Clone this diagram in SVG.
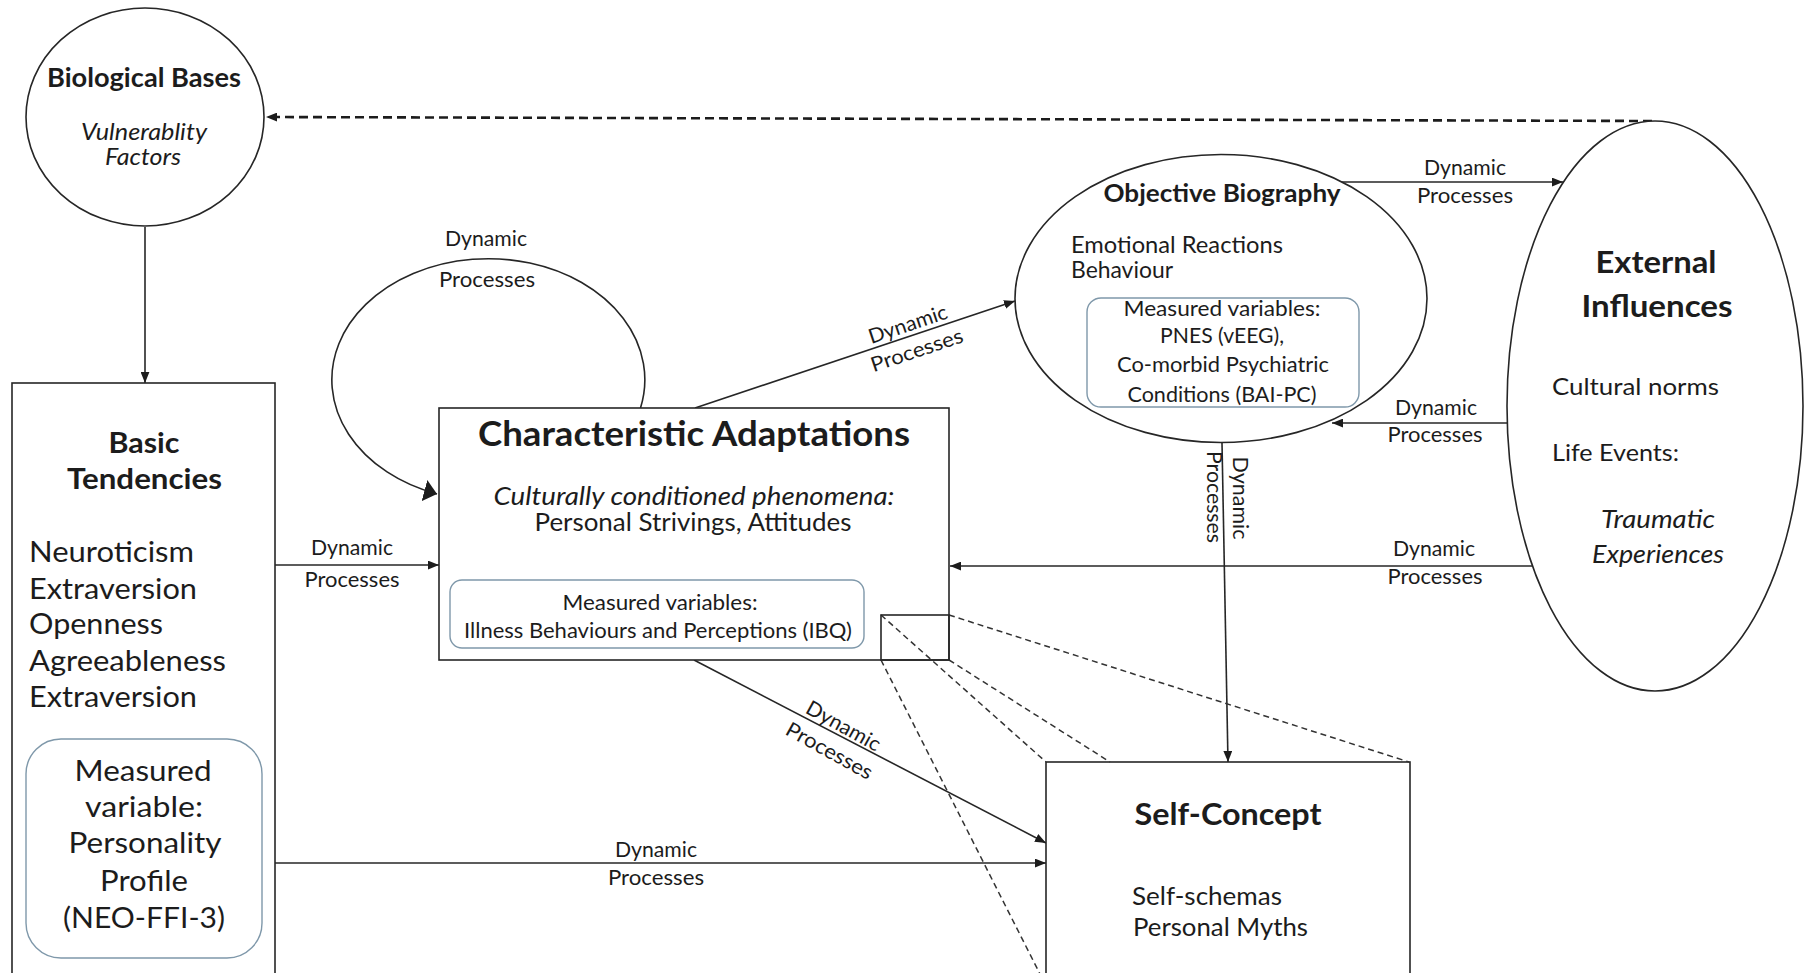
<svg xmlns="http://www.w3.org/2000/svg" width="1804" height="973" viewBox="0 0 1804 973">
<defs>
<style>
text{font-family:Lato,"Open Sans","Liberation Sans",sans-serif;fill:#1c1c1c;}
.b{font-weight:bold;}
.i{font-style:italic;}
.m{text-anchor:middle;}
.lbl{font-size:20.5px;text-anchor:middle;}
.node{fill:#fff;stroke:#262626;stroke-width:1.6;}
.inner{fill:none;stroke:#7f98aa;stroke-width:1.4;}
.conn{fill:none;stroke:#262626;stroke-width:1.6;}
.dash{fill:none;stroke:#333;stroke-width:1.5;stroke-dasharray:6 4;}
</style>
<marker id="ah" viewBox="0 0 10 8" refX="10" refY="4" markerWidth="11" markerHeight="9" markerUnits="userSpaceOnUse" orient="auto">
<path d="M0,0 L10,4 L0,8 z" fill="#1c1c1c"/>
</marker>
<marker id="ahBig" viewBox="0 0 13 22" refX="13" refY="11" markerWidth="13" markerHeight="22" markerUnits="userSpaceOnUse" orient="auto">
<path d="M0,0 L13,11 L0,22 z" fill="#1c1c1c"/>
</marker>
</defs>
<rect width="1804" height="973" fill="#fff"/>

<g id="connectors">
<path d="M1652 121 L266 117" fill="none" stroke="#1c1c1c" stroke-width="2.6" stroke-dasharray="9 5" marker-end="url(#ah)"/>
<path class="conn" d="M145 227 L145 383" marker-end="url(#ah)"/>
<path class="conn" d="M640.5 408 A156.5 121 0 1 0 437 494" marker-end="url(#ahBig)"/>
<path class="conn" d="M275 565 L439 565" marker-end="url(#ah)"/>
<path class="conn" d="M275 863 L1046 863" marker-end="url(#ah)"/>
<path class="conn" d="M695 408 L1015 301" marker-end="url(#ah)"/>
<path class="conn" d="M694 660 L1046 843" marker-end="url(#ah)"/>
<path class="conn" d="M1340 182 L1563 182" marker-end="url(#ah)"/>
<path class="conn" d="M1507 423 L1332 423" marker-end="url(#ah)"/>
<path class="conn" d="M1534 566 L950 566" marker-end="url(#ah)"/>
<path class="conn" d="M1222 443 L1228 762" marker-end="url(#ah)"/>
<text class="lbl" x="486" y="246" textLength="82" lengthAdjust="spacingAndGlyphs">Dynamic</text>
<text class="lbl" x="487" y="287" textLength="96" lengthAdjust="spacingAndGlyphs">Processes</text>
<text class="lbl" x="352" y="555" textLength="82" lengthAdjust="spacingAndGlyphs">Dynamic</text>
<text class="lbl" x="352" y="587" textLength="95" lengthAdjust="spacingAndGlyphs">Processes</text>
<text class="lbl" x="656" y="857" textLength="82" lengthAdjust="spacingAndGlyphs">Dynamic</text>
<text class="lbl" x="656" y="885" textLength="96" lengthAdjust="spacingAndGlyphs">Processes</text>
<text class="lbl" transform="translate(910 331) rotate(-18.5)" textLength="82" lengthAdjust="spacingAndGlyphs">Dynamic</text>
<text class="lbl" transform="translate(919 357) rotate(-18.5)" textLength="96" lengthAdjust="spacingAndGlyphs">Processes</text>
<text class="lbl" transform="translate(840 732) rotate(29)" textLength="82" lengthAdjust="spacingAndGlyphs">Dynamic</text>
<text class="lbl" transform="translate(826 757) rotate(29)" textLength="96" lengthAdjust="spacingAndGlyphs">Processes</text>
<text class="lbl" x="1465" y="175" textLength="82" lengthAdjust="spacingAndGlyphs">Dynamic</text>
<text class="lbl" x="1465" y="203" textLength="96" lengthAdjust="spacingAndGlyphs">Processes</text>
<text class="lbl" x="1436" y="415" textLength="82" lengthAdjust="spacingAndGlyphs">Dynamic</text>
<text class="lbl" x="1435" y="442" textLength="95" lengthAdjust="spacingAndGlyphs">Processes</text>
<text class="lbl" x="1434" y="556" textLength="82" lengthAdjust="spacingAndGlyphs">Dynamic</text>
<text class="lbl" x="1435" y="584" textLength="95" lengthAdjust="spacingAndGlyphs">Processes</text>
<text class="lbl" transform="translate(1233 498) rotate(90)" textLength="83" lengthAdjust="spacingAndGlyphs">Dynamic</text>
<text class="lbl" transform="translate(1207 497) rotate(90)" textLength="92" lengthAdjust="spacingAndGlyphs">Processes</text>
</g>

<g id="biological-bases">
<ellipse class="node" cx="145" cy="117" rx="119" ry="109"/>
<text class="b m" x="144" y="87" font-size="26" textLength="194" lengthAdjust="spacingAndGlyphs">Biological Bases</text>
<text class="i m" x="144" y="140" font-size="22.5" textLength="126" lengthAdjust="spacingAndGlyphs">Vulnerablity</text>
<text class="i m" x="143" y="165" font-size="22.5" textLength="76" lengthAdjust="spacingAndGlyphs">Factors</text>
</g>

<g id="basic-tendencies">
<rect class="node" x="12" y="383" width="263" height="620"/>
<text class="b m" x="144" y="453" font-size="29" textLength="71" lengthAdjust="spacingAndGlyphs">Basic</text>
<text class="b m" x="144.5" y="489" font-size="29" textLength="155" lengthAdjust="spacingAndGlyphs">Tendencies</text>
<text x="29" y="562" font-size="29" textLength="165" lengthAdjust="spacingAndGlyphs">Neuroticism</text>
<text x="29" y="599" font-size="29" textLength="168" lengthAdjust="spacingAndGlyphs">Extraversion</text>
<text x="29" y="634" font-size="29" textLength="134" lengthAdjust="spacingAndGlyphs">Openness</text>
<text x="29" y="671" font-size="29" textLength="197" lengthAdjust="spacingAndGlyphs">Agreeableness</text>
<text x="29" y="707" font-size="29" textLength="168" lengthAdjust="spacingAndGlyphs">Extraversion</text>
<rect class="inner" x="26" y="739" width="236" height="219" rx="35"/>
<text class="m" x="143" y="781" font-size="29" textLength="137" lengthAdjust="spacingAndGlyphs">Measured</text>
<text class="m" x="144" y="817" font-size="29" textLength="118" lengthAdjust="spacingAndGlyphs">variable:</text>
<text class="m" x="145" y="853" font-size="29" textLength="153" lengthAdjust="spacingAndGlyphs">Personality</text>
<text class="m" x="144" y="891" font-size="29" textLength="88" lengthAdjust="spacingAndGlyphs">Profile</text>
<text class="m" x="144" y="928" font-size="29" textLength="162" lengthAdjust="spacingAndGlyphs">(NEO-FFI-3)</text>
</g>

<g id="characteristic-adaptations">
<rect class="node" x="439" y="408" width="510" height="252"/>
<text class="b m" x="694" y="446" font-size="34.5" textLength="432" lengthAdjust="spacingAndGlyphs">Characteristic Adaptations</text>
<text class="i m" x="694" y="505" font-size="24.5" textLength="401" lengthAdjust="spacingAndGlyphs">Culturally conditioned phenomena:</text>
<text class="m" x="693" y="531" font-size="24.5" textLength="317" lengthAdjust="spacingAndGlyphs">Personal Strivings, Attitudes</text>
<rect class="inner" x="450" y="580" width="414" height="68" rx="12"/>
<text class="m" x="660" y="610" font-size="21" textLength="195" lengthAdjust="spacingAndGlyphs">Measured variables:</text>
<text class="m" x="658" y="638" font-size="21" textLength="388" lengthAdjust="spacingAndGlyphs">Illness Behaviours and Perceptions (IBQ)</text>
</g>

<g id="objective-biography">
<ellipse class="node" cx="1221" cy="298.5" rx="206" ry="144"/>
<text class="b m" x="1222" y="202" font-size="25" textLength="237" lengthAdjust="spacingAndGlyphs">Objective Biography</text>
<text x="1071" y="253" font-size="22.5" textLength="212" lengthAdjust="spacingAndGlyphs">Emotional Reactions</text>
<text x="1071" y="278" font-size="22.5" textLength="102" lengthAdjust="spacingAndGlyphs">Behaviour</text>
<rect class="inner" x="1087" y="298" width="272" height="109" rx="14"/>
<text class="m" x="1222" y="316" font-size="21" textLength="197" lengthAdjust="spacingAndGlyphs">Measured variables:</text>
<text class="m" x="1222" y="343" font-size="21" textLength="124" lengthAdjust="spacingAndGlyphs">PNES (vEEG),</text>
<text class="m" x="1223" y="372" font-size="21" textLength="212" lengthAdjust="spacingAndGlyphs">Co-morbid Psychiatric</text>
<text class="m" x="1222" y="402" font-size="21" textLength="189" lengthAdjust="spacingAndGlyphs">Conditions (BAI-PC)</text>
</g>

<g id="external-influences">
<ellipse class="node" cx="1655" cy="406" rx="148" ry="285"/>
<text class="b m" x="1656" y="273" font-size="31" textLength="121" lengthAdjust="spacingAndGlyphs">External</text>
<text class="b m" x="1657" y="317" font-size="31" textLength="151" lengthAdjust="spacingAndGlyphs">Influences</text>
<text x="1552" y="395" font-size="23" textLength="167" lengthAdjust="spacingAndGlyphs">Cultural norms</text>
<text x="1552" y="461" font-size="24" textLength="127" lengthAdjust="spacingAndGlyphs">Life Events:</text>
<text class="i m" x="1658" y="528" font-size="24.5" textLength="114" lengthAdjust="spacingAndGlyphs">Traumatic</text>
<text class="i m" x="1658" y="563" font-size="24.5" textLength="132" lengthAdjust="spacingAndGlyphs">Experiences</text>
</g>

<g id="self-concept">
<rect class="node" x="1046" y="762" width="364" height="240"/>
<text class="b m" x="1228" y="825" font-size="30" textLength="187" lengthAdjust="spacingAndGlyphs">Self-Concept</text>
<text x="1132" y="905" font-size="25" textLength="150" lengthAdjust="spacingAndGlyphs">Self-schemas</text>
<text x="1133" y="936" font-size="25" textLength="175" lengthAdjust="spacingAndGlyphs">Personal Myths</text>
</g>

<g id="zoom-projection">
<path class="dash" d="M949 615 L1409 762"/>
<path class="dash" d="M881 615 L1046 762"/>
<path class="dash" d="M949 660 L1110 762"/>
<path class="dash" d="M881 660 L1043 980"/>
<rect x="881" y="615" width="68" height="45" fill="none" stroke="#262626" stroke-width="1.6"/>
</g>
</svg>
